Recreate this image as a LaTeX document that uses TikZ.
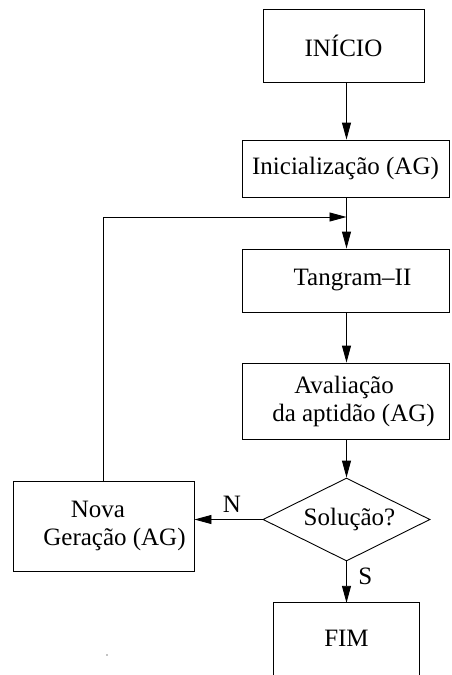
\documentclass[tikz,border=0pt]{standalone}
\usepackage{fontspec}
\setmainfont{Liberation Serif}
\usetikzlibrary{shapes.geometric,arrows.meta}
\begin{document}
\begin{tikzpicture}[x=1pt,y=-1pt,
  every node/.style={font=\fontsize{25}{29}\selectfont},
  procbox/.style={draw, rectangle, line width=0.9pt, inner sep=0pt, align=center},
  decision/.style={draw, diamond, aspect=2, line width=0.9pt, inner sep=0pt,
    minimum width=167pt, minimum height=83pt},
  flow/.style={line width=0.9pt, -{Triangle[length=17pt,width=9pt]}},
  plain/.style={line width=0.9pt}]
\useasboundingbox (0,0) rectangle (451,675);

% process boxes
\node[procbox, minimum width=161pt, minimum height=73pt] (inicio) at (343.5,45.5) {INÍCIO};
\node[procbox, minimum width=207pt, minimum height=57pt] (init) at (345.5,168.5) {Inicialização (AG)};
\node[procbox, minimum width=207pt, minimum height=63pt] (tang) at (345.5,280.5) {\hspace*{14pt}Tangram--II};
\node[procbox, minimum width=207pt, minimum height=76pt] (aval) at (345.5,401) {Avaliação\hspace*{3pt}\\[-1pt]\hspace*{16pt}da aptidão (AG)};
\node[decision] (sol) at (346.5,519.5) {\hspace*{6pt}Solução?};
\node[procbox, minimum width=181pt, minimum height=90pt] (nova) at (103.5,526) {Nova\hspace*{11pt}\\[-1pt]\hspace*{22pt}Geração (AG)};

% final box, running off the lower edge
\node[minimum width=145pt, minimum height=70pt, inner sep=0pt] (fim) at (346.5,638) {FIM};
\draw[plain] ([yshift=-40pt]fim.south west) -- (fim.north west) -- (fim.north east) -- ([yshift=-40pt]fim.south east);

% connectors
\coordinate (axis) at (346.5,0);
\coordinate (join) at (axis |- 0,217);
\draw[flow] (inicio.south -| axis) -- (init.north -| axis);
\draw[flow] (init.south -| axis) -- (tang.north -| axis);
\draw[flow] (tang.south -| axis) -- (aval.north -| axis);
\draw[flow] (aval.south -| axis) -- (sol.north);
\draw[flow] (sol.west) -- node[above=3pt, pos=0.45] (nlab) {N} (sol.west -| nova.east);
\draw[flow] (sol.south) -- node[right=8pt, pos=0.35] (slab) {S} (fim.north);
\draw[flow] (nova.north) -- (nova.north |- join) -- (join);

% small stray mark
\fill (107,655) circle (0.6pt);
\end{tikzpicture}
\end{document}
